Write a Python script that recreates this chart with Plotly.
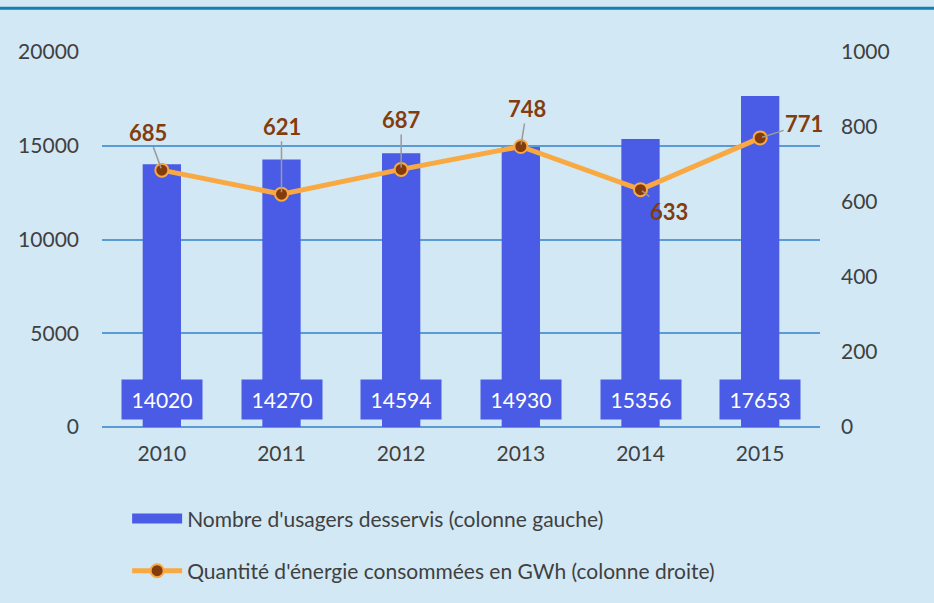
import plotly.graph_objects as go

years = ["2010", "2011", "2012", "2013", "2014", "2015"]
usagers = [14020, 14270, 14594, 14930, 15356, 17653]
energie = [685, 621, 687, 748, 633, 771]
label_offsets = [(-14, -38), (0, -68), (0, -50), (6, -38), (28, 22), (44, -14)]

BG = "#D2E8F5"
BAR = "#4A5BE6"
ORANGE = "#F9A941"
BROWN = "#843C0C"
GRID = "#5B9BD5"
FONT = "Lato"

fig = go.Figure()
fig.add_trace(go.Bar(
    x=years, y=usagers, name="Nombre d'usagers desservis (colonne gauche)",
    marker=dict(color=BAR, line=dict(width=0)), width=0.32, yaxis="y",
    showlegend=False,
))
# legend swatch for the bars (wide rectangle, as in the reference)
fig.add_trace(go.Scatter(
    x=[None], y=[None], name="Nombre d'usagers desservis (colonne gauche)",
    mode="lines", line=dict(color=BAR, width=16), legendgroup="a",
))
fig.add_trace(go.Scatter(
    x=years, y=energie, name="Quantité d'énergie consommées en GWh (colonne droite)",
    mode="lines+markers", yaxis="y2", legendgroup="b",
    line=dict(color=ORANGE, width=5),
    marker=dict(color=BROWN, size=13, line=dict(color=ORANGE, width=2)),
))

annotations = []
for i, v in enumerate(usagers):
    annotations.append(dict(
        x=i, y=0, xref="x", yref="y", yanchor="bottom", yshift=7,
        text=str(v), showarrow=False, bgcolor=BAR, borderpad=7,
        font=dict(family=FONT, size=21, color="white"), width=66,
    ))
for i, (v, (ax, ay)) in enumerate(zip(energie, label_offsets)):
    annotations.append(dict(
        x=i, y=v, xref="x", yref="y2", text=f"<b>{v}</b>",
        showarrow=True, arrowhead=0, arrowwidth=1.5, arrowcolor="#9A9A9A",
        ax=ax, ay=ay, standoff=2,
        font=dict(family=FONT, size=22, color=BROWN),
    ))

fig.update_layout(
    width=934, height=603,
    paper_bgcolor=BG, plot_bgcolor=BG,
    margin=dict(l=102, r=114, t=52, b=174),
    font=dict(family=FONT, size=21, color="#404040"),
    xaxis=dict(type="category", range=[-0.5, 5.5], autorange=False, showgrid=False, showline=False,
               ticks="", tickfont=dict(size=21, color="#404040"), ticklabelstandoff=12),
    yaxis=dict(range=[0, 20000], tickvals=[0, 5000, 10000, 15000, 20000], showgrid=True,
               gridcolor=GRID, gridwidth=1.5, zeroline=True, zerolinecolor=GRID, zerolinewidth=1.5,
               showline=False, ticks="", ticklabelstandoff=22, tickformat="d"),
    yaxis2=dict(range=[0, 1000], tickvals=[0, 200, 400, 600, 800, 1000], overlaying="y", side="right",
                showgrid=False, zeroline=False, showline=False, ticks="", ticklabelstandoff=20),
    legend=dict(orientation="v", x=0.035, y=-0.19, xanchor="left", yanchor="top",
                bgcolor="rgba(0,0,0,0)", font=dict(size=21, color="#404040"),
                tracegroupgap=22, itemwidth=50),
    showlegend=True,
    annotations=annotations,
    shapes=[dict(type="line", xref="paper", yref="paper", x0=-0.2, x1=1.2, y0=1.117, y1=1.117,
                 line=dict(color="#1580B0", width=3))],
)

fig.write_html("out.html", config={"displayModeBar": False},
               post_script="document.body.style.margin='0';document.body.style.background='" + BG + "';")
